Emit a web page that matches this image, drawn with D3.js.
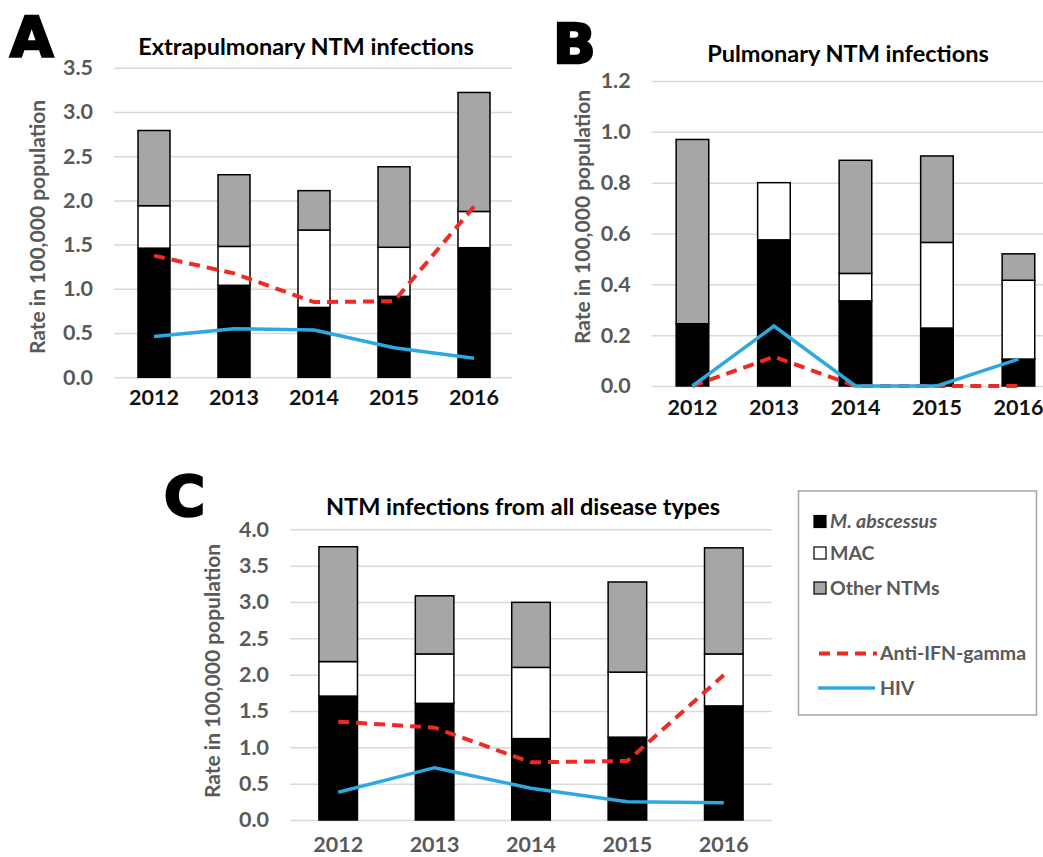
<!DOCTYPE html>
<html>
<head>
<meta charset="utf-8">
<script src="https://cdn.jsdelivr.net/npm/d3@7"></script>
<style>
  body { margin: 0; background: #fff; }
  svg { display: block; font-family: Lato, "Open Sans", sans-serif; }
</style>
</head>
<body>
<div id="chart"></div>
<script>
// years on x axis
var years = ['2012', '2013', '2014', '2015', '2016'];

// A - extrapulmonary
var extraAbscessus = [1.46, 1.04, 0.79, 0.915, 1.465];
var extraMac       = [0.48, 0.44, 0.875, 0.555, 0.41];
var extraOther     = [0.85, 0.81, 0.445, 0.91, 1.345];
var extraAntiIfn   = [1.375, 1.175, 0.85, 0.86, 1.93];
var extraHiv       = [0.46, 0.55, 0.535, 0.335, 0.215];
var extraTicks     = [0, 0.5, 1.0, 1.5, 2.0, 2.5, 3.0, 3.5];

// B - pulmonary
var pulmAbscessus = [0.245, 0.575, 0.335, 0.228, 0.106];
var pulmMac       = [0, 0.225, 0.108, 0.337, 0.31];
var pulmOther     = [0.725, 0, 0.445, 0.34, 0.104];
var pulmAntiIfn   = [0, 0.115, 0, 0, 0];
var pulmHiv       = [0, 0.236, 0, 0, 0.106];
var pulmTicks     = [0, 0.2, 0.4, 0.6, 0.8, 1.0, 1.2];

// C - all disease types
var allAbscessus = [1.705, 1.605, 1.12, 1.14, 1.57];
var allMac       = [0.475, 0.68, 0.98, 0.895, 0.715];
var allOther     = [1.58, 0.8, 0.895, 1.24, 1.46];
var allAntiIfn   = [1.353, 1.27, 0.794, 0.812, 1.995];
var allHiv       = [0.381, 0.72, 0.436, 0.252, 0.239];
var allTicks     = [0, 0.5, 1.0, 1.5, 2.0, 2.5, 3.0, 3.5, 4.0];

var seriesKeys = ['abscessus', 'mac', 'other'];
var fills = {abscessus: '#000000', mac: '#ffffff', other: '#a6a6a6'};
var legendBars = ['M. abscessus', 'MAC', 'Other NTMs'];
var legendLines = ['Anti-IFN-gamma', 'HIV'];
var RED = '#ee2a24', BLUE = '#2ea9df', GREY = '#595959';

var svg = d3.select('#chart').append('svg')
    .attr('width', 1043)
    .attr('height', 857);

function makeRows(a, m, o){
    return years.map(function(y, i){
        return {year: y, abscessus: a[i], mac: m[i], other: o[i]};
    });
}

function panel(p){
    var g = svg.append('g');
    var x = d3.scaleBand().domain(years).range([p.x0, p.x1])
        .paddingInner(0.6).paddingOuter(0.3);
    var y = d3.scaleLinear().domain([0, p.max]).range([p.yBottom, p.yTop]);

    // gridlines + tick labels
    var ax = g.append('g')
        .attr('transform', 'translate(' + p.x0 + ',0)')
        .call(d3.axisLeft(y).tickValues(p.ticks).tickFormat(d3.format('.1f'))
            .tickSizeInner(-(p.gridEnd - p.x0)).tickSizeOuter(0).tickPadding(21));
    ax.select('.domain').remove();
    ax.selectAll('.tick line').attr('stroke', '#d9d9d9').attr('stroke-width', 1.5);
    ax.selectAll('.tick text').attr('fill', GREY).attr('font-size', 21.5)
        .attr('font-weight', 'bold').attr('font-family', 'Lato, sans-serif');

    // stacked bars
    var stacked = d3.stack().keys(seriesKeys)(p.rows);
    g.selectAll('.layer').data(stacked).enter().append('g')
        .attr('class', 'layer')
        .attr('fill', function(d){ return fills[d.key]; })
        .selectAll('rect').data(function(d){ return d.filter(function(s){ return s[1] - s[0] > 0; }); })
        .enter().append('rect')
        .attr('x', function(d){ return x(d.data.year); })
        .attr('width', x.bandwidth())
        .attr('y', function(d){ return y(d[1]); })
        .attr('height', function(d){ return y(d[0]) - y(d[1]); })
        .attr('stroke', '#000')
        .attr('stroke-width', 1.5);

    // lines
    var line = d3.line()
        .x(function(d, i){ return x(years[i]) + x.bandwidth() / 2; })
        .y(function(d){ return y(d); });
    g.append('path').datum(p.anti).attr('d', line)
        .attr('fill', 'none').attr('stroke', RED).attr('stroke-width', 4)
        .attr('stroke-dasharray', '11,7');
    g.append('path').datum(p.hiv).attr('d', line)
        .attr('fill', 'none').attr('stroke', BLUE).attr('stroke-width', 3.5);

    // year labels
    g.selectAll('.yr').data(years).enter().append('text')
        .attr('x', function(d){ return x(d) + x.bandwidth() / 2; })
        .attr('y', p.yearY)
        .attr('text-anchor', 'middle')
        .attr('font-size', 21.5).attr('font-weight', 'bold')
        .attr('fill', p.yearColor)
        .text(function(d){ return d; });

    // title
    g.append('text').attr('x', p.titleX).attr('y', p.titleY)
        .attr('text-anchor', 'middle').attr('font-size', 23.5).attr('font-weight', 'bold')
        .attr('fill', '#000').text(p.title);

    // y axis title
    g.append('text')
        .attr('transform', 'translate(' + p.axX + ',' + p.axY + ') rotate(-90)')
        .attr('text-anchor', 'middle').attr('dy', '0.35em')
        .attr('font-size', 21).attr('font-weight', 'bold').attr('fill', GREY)
        .text('Rate in 100,000 population');

    // panel letter
    g.append('text').attr('x', p.letterX).attr('y', p.letterY)
        .attr('font-family', '"DejaVu Sans", sans-serif').attr('font-weight', 'bold')
        .attr('font-size', 56).attr('fill', '#000')
        .attr('stroke', '#000').attr('stroke-width', 2.5)
        .text(p.letter);
}

panel({
    rows: makeRows(extraAbscessus, extraMac, extraOther),
    anti: extraAntiIfn, hiv: extraHiv, ticks: extraTicks, max: 3.5,
    x0: 114, x1: 514, gridEnd: 512, yTop: 67.7, yBottom: 377.3,
    yearY: 405, yearColor: '#111',
    title: 'Extrapulmonary NTM infections', titleX: 306, titleY: 55,
    axX: 38, axY: 227, letter: 'A', letterX: 10, letterY: 56
});

panel({
    rows: makeRows(pulmAbscessus, pulmMac, pulmOther),
    anti: pulmAntiIfn, hiv: pulmHiv, ticks: pulmTicks, max: 1.2,
    x0: 651.7, x1: 1059.2, gridEnd: 1043, yTop: 81, yBottom: 386,
    yearY: 415, yearColor: '#111',
    title: 'Pulmonary NTM infections', titleX: 848, titleY: 62,
    axX: 583, axY: 217, letter: 'B', letterX: 553, letterY: 63
});

panel({
    rows: makeRows(allAbscessus, allMac, allOther),
    anti: allAntiIfn, hiv: allHiv, ticks: allTicks, max: 4.0,
    x0: 290, x1: 772, gridEnd: 772, yTop: 529.3, yBottom: 820,
    yearY: 852, yearColor: GREY,
    title: 'NTM infections from all disease types', titleX: 523, titleY: 515,
    axX: 213, axY: 671, letter: 'C', letterX: 164, letterY: 515
});

// legend
var lg = svg.append('g');
lg.append('rect').attr('x', 798.5).attr('y', 491).attr('width', 238).attr('height', 224)
    .attr('fill', '#fff').attr('stroke', '#a6a6a6').attr('stroke-width', 1.5);

var rowY = [521.5, 553, 588];
lg.selectAll('.sw').data(seriesKeys).enter().append('rect')
    .attr('x', 814).attr('y', function(d, i){ return rowY[i] - 6; })
    .attr('width', 12).attr('height', 12)
    .attr('fill', function(d){ return fills[d]; })
    .attr('stroke', '#000').attr('stroke-width', 1.2);
lg.selectAll('.lt').data(legendBars).enter().append('text')
    .attr('x', 830).attr('y', function(d, i){ return rowY[i]; })
    .attr('dy', '0.35em')
    .attr('font-size', 19.5).attr('font-weight', 'bold').attr('fill', GREY)
    .attr('font-style', function(d, i){ return i === 0 ? 'italic' : null; })
    .text(function(d){ return d; });

var lineY = [653.5, 688];
lg.append('line').attr('x1', 819).attr('x2', 877).attr('y1', lineY[0]).attr('y2', lineY[0])
    .attr('stroke', RED).attr('stroke-width', 4).attr('stroke-dasharray', '11,7');
lg.append('line').attr('x1', 818).attr('x2', 875).attr('y1', lineY[1]).attr('y2', lineY[1])
    .attr('stroke', BLUE).attr('stroke-width', 3.5);
lg.selectAll('.ll').data(legendLines).enter().append('text')
    .attr('x', 880).attr('y', function(d, i){ return lineY[i]; })
    .attr('dy', '0.35em')
    .attr('font-size', 19.5).attr('font-weight', 'bold').attr('fill', GREY)
    .text(function(d){ return d; });
</script>
</body>
</html>
